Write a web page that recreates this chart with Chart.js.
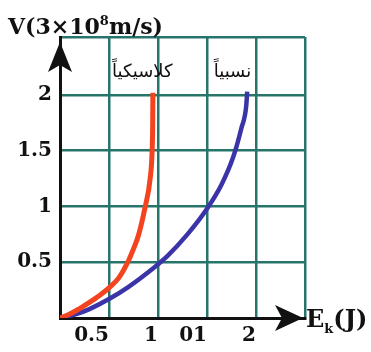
<!DOCTYPE html>
<html>
<head>
<meta charset="utf-8">
<script src="https://cdn.jsdelivr.net/npm/chart.js@4.4.0/dist/chart.umd.min.js"></script>
<style>
  html, body { margin:0; padding:0; background:#fff; }
  #wrap { position:relative; width:371px; height:352px; }
  .ttl { position:absolute; font-family:"DejaVu Serif", serif; font-weight:bold; font-size:22px; color:#111; white-space:nowrap; line-height:1; }
  .ttl sup { font-size:13px; vertical-align:9px; }
  .ttl sub { font-size:13px; vertical-align:-6px; }
</style>
</head>
<body>
<div id="wrap">
  <canvas id="c" width="371" height="352"></canvas>
  <div class="ttl" style="left:8px; top:14px;">V(3×10<sup>8</sup>m/s)</div>
  <div class="ttl" style="left:306px; top:307px; font-size:24px;">E<sub>k</sub>(J)</div>
</div>
<script>
// data
const classicE = [0, 0.1, 0.2, 0.3, 0.4, 0.5, 0.6, 0.68, 0.75, 0.8, 0.87, 0.92, 0.94, 0.946, 0.948];
const classicV = [0, 0.035, 0.085, 0.14, 0.2, 0.27, 0.36, 0.48, 0.62, 0.74, 1.0, 1.25, 1.5, 1.75, 2.02];
const relE = [0, 0.15, 0.3, 0.5, 0.7, 0.9, 1.1, 1.3, 1.5, 1.65, 1.77, 1.85, 1.9, 1.91];
const relV = [0, 0.03, 0.08, 0.17, 0.28, 0.41, 0.56, 0.75, 0.98, 1.2, 1.45, 1.7, 1.9, 2.03];

const xTickVals = [0.5, 1, 1.5, 2];
const xTickLabels = ["0.5", "1", "01", "2"];
const yTickVals = [0.5, 1, 1.5, 2];
const yTickLabels = ["0.5", "1", "1.5", "2"];

const curveNames = ["كلاسيكياً", "نسبياً"];

const toPts = (xs, ys) => xs.map((x, i) => ({ x: x, y: ys[i] }));

// arrows + curve labels
const extras = {
  id: "extras",
  afterDatasetsDraw(chart) {
    const ctx = chart.ctx;
    const a = chart.chartArea;
    const sx = chart.scales.x, sy = chart.scales.y;
    ctx.save();
    ctx.fillStyle = "#111";
    // y arrow
    let x = a.left, t = a.top + 5;
    ctx.beginPath();
    ctx.moveTo(x, t);
    ctx.lineTo(x - 12, t + 30);
    ctx.lineTo(x, t + 23);
    ctx.lineTo(x + 12, t + 30);
    ctx.closePath();
    ctx.fill();
    // x arrow
    let y = a.bottom, r = a.right - 2;
    ctx.beginPath();
    ctx.moveTo(r, y);
    ctx.lineTo(r - 28, y - 13);
    ctx.lineTo(r - 21, y);
    ctx.lineTo(r - 28, y + 13);
    ctx.closePath();
    ctx.fill();
    // labels
    ctx.font = "18px 'DejaVu Sans'";
    ctx.textAlign = "center";
    ctx.textBaseline = "middle";
    ctx.fillText(curveNames[0], sx.getPixelForValue(0.84), sy.getPixelForValue(2.2));
    ctx.fillText(curveNames[1], sx.getPixelForValue(1.76), sy.getPixelForValue(2.2));
    ctx.restore();
  }
};

const gridColor = "#27756a";
const tickFont = { family: "'DejaVu Serif'", weight: "bold", size: 20 };

new Chart(document.getElementById("c"), {
  type: "line",
  data: {
    datasets: [
      { data: toPts(classicE, classicV), borderColor: "#f4431f", borderWidth: 5, pointRadius: 0, cubicInterpolationMode: "monotone" },
      { data: toPts(relE, relV), borderColor: "#3b34a8", borderWidth: 4.5, pointRadius: 0, cubicInterpolationMode: "monotone" }
    ]
  },
  options: {
    responsive: false,
    animation: false,
    layout: { padding: { left: 0, right: 66, top: 37, bottom: 0 } },
    plugins: { legend: { display: false }, tooltip: { enabled: false } },
    scales: {
      x: {
        type: "linear", min: 0, max: 2.5,
        afterFit: s => { s.height = 34; },
        grid: { color: gridColor, lineWidth: 2.5, drawTicks: false },
        border: { color: "#111", width: 3 },
        ticks: {
          stepSize: 0.5, align: "end", padding: 6, color: "#111", font: tickFont,
          callback: v => { const i = xTickVals.indexOf(v); return i < 0 ? "" : xTickLabels[i]; }
        }
      },
      y: {
        min: 0, max: 2.52,
        afterFit: s => { s.width = 60; },
        grid: { color: gridColor, lineWidth: 2.5, drawTicks: false },
        border: { color: "#111", width: 3 },
        ticks: {
          stepSize: 0.5, padding: 8, color: "#111", font: tickFont,
          callback: v => { const i = yTickVals.indexOf(v); return i < 0 ? "" : yTickLabels[i]; }
        }
      }
    }
  },
  plugins: [extras]
});
</script>
</body>
</html>
